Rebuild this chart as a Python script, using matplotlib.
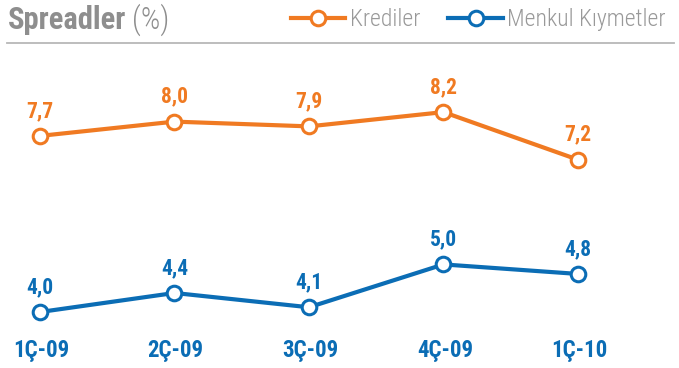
import numpy as np
import matplotlib
matplotlib.use("Agg")
import matplotlib.pyplot as plt

plt.rcParams['font.family'] = ['Roboto Condensed', 'DejaVu Sans']
plt.rcParams['font.stretch'] = 'condensed'

quarters = ["1Ç-09", "2Ç-09", "3Ç-09", "4Ç-09", "1Ç-10"]
krediler = [7.7, 8.0, 7.9, 8.2, 7.2]
menkul = [4.0, 4.4, 4.1, 5.0, 4.8]

orange = "#F07A22"
blue = "#0B6DB5"
gray = "#8E8E8E"

fig = plt.figure(figsize=(6.79, 3.68), dpi=100)
ax = fig.add_axes([0, 0, 1, 1])
ax.set_xlim(-0.297, 4.751)
ax.set_ylim(2.824, 10.555)
ax.axis("off")

x = np.arange(len(quarters))
for vals, color, name in ((krediler, orange, "Krediler"),
                          (menkul, blue, "Menkul Kıymetler")):
    ax.plot(x, vals, color=color, lw=3, marker="o", ms=10.5,
            mfc="white", mec=color, mew=2.2, label=name, zorder=3)
    for xi, v in zip(x, vals):
        ax.annotate(f"{v:.1f}".replace(".", ","), (xi, v),
                    xytext=(0, 10), textcoords="offset points",
                    ha="center", va="bottom", fontsize=15.5,
                    fontweight="bold", color=color)

for xi, q in zip(x, quarters):
    ax.text(xi + 0.01, 3.2, q, ha="center", va="center", fontsize=16.5,
            fontweight="bold", color=blue)

# header: title, rule and legend
t1 = fig.text(0.011, 0.921, "Spreadler", fontsize=22, fontweight="bold",
              color=gray, va="baseline")
fig.canvas.draw()
bb = t1.get_window_extent().transformed(fig.transFigure.inverted())
fig.text(bb.x1 + 0.009, 0.921, "(%)", fontsize=22, fontweight="light",
         color=gray, va="baseline")
fig.add_artist(plt.Line2D([0.01, 0.992], [0.883, 0.883],
                          color="#B8B8B8", lw=1.3))
leg = ax.legend(loc="upper right", bbox_to_anchor=(1.012, 1.035), ncol=2,
                frameon=False, fontsize=17, handlelength=2.3,
                columnspacing=1.2, handletextpad=0.2)
for t in leg.get_texts():
    t.set_color("#999999")
    t.set_fontweight("light")

fig.savefig("out.png", dpi=100)
